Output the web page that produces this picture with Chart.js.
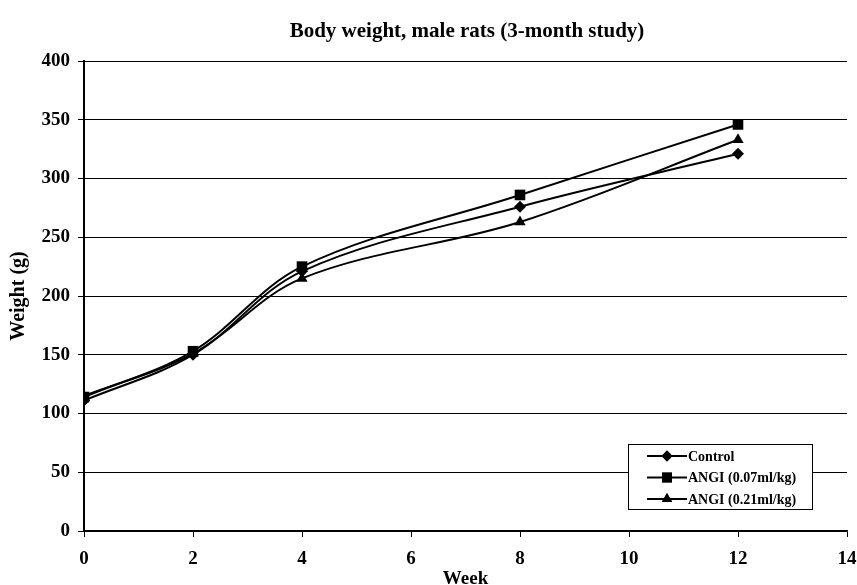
<!DOCTYPE html>
<html>
<head>
<meta charset="utf-8">
<script src="https://cdn.jsdelivr.net/npm/chart.js@4"></script>
<style>
  body { margin: 0; background: #fff; }
  #wrap { width: 857px; height: 585px; }
</style>
</head>
<body>
<div id="wrap"><canvas id="weightChart"></canvas></div>
<script>
var weeks = [0, 2, 4, 8, 12];
var seriesNames = ['Control', 'ANGI (0.07ml/kg)', 'ANGI (0.21ml/kg)'];
var controlValues = [111, 150, 221, 276, 321];
var lowDoseValues = [114, 153, 225, 286, 346];
var highDoseValues = [115, 151, 215, 263, 333];
var chartTitle = 'Body weight, male rats (3-month study)';
var markerShapes = ['rectRot', 'rect', 'triangle'];
var markerSizes = [6, 7.5, 6.5];

var serif = '"Liberation Serif", "Times New Roman", serif';

function toPoints(vals) {
  var pts = [];
  for (var i = 0; i < weeks.length; i++) {
    pts.push({ x: weeks[i], y: vals[i] });
  }
  return pts;
}

var allValues = [controlValues, lowDoseValues, highDoseValues];
var datasets = [];
for (var s = 0; s < seriesNames.length; s++) {
  datasets.push({
    label: seriesNames[s],
    data: toPoints(allValues[s]),
    borderColor: '#000',
    backgroundColor: '#000',
    borderWidth: 2,
    pointStyle: markerShapes[s],
    pointRadius: markerSizes[s],
    pointBorderWidth: 0,
    pointBackgroundColor: '#000',
    tension: 0.35,
    showLine: true
  });
}

// title drawn by hand so it can sit where the original has it
var titleText = {
  id: 'titleText',
  afterDraw: function(chart) {
    var ctx = chart.ctx;
    ctx.save();
    ctx.fillStyle = '#000';
    ctx.font = 'bold 21px ' + serif;
    ctx.textAlign = 'center';
    ctx.textBaseline = 'alphabetic';
    ctx.fillText(chartTitle, 467, 37);
    ctx.restore();
  }
};

// legend box drawn inside the plot, like the original
var boxLegend = {
  id: 'boxLegend',
  afterDraw: function(chart) {
    var ctx = chart.ctx;
    var left = 628, top = 444, w = 184, h = 65;
    ctx.save();
    ctx.fillStyle = '#fff';
    ctx.fillRect(left, top, w, h);
    ctx.strokeStyle = '#000';
    ctx.lineWidth = 1;
    ctx.strokeRect(left + 0.5, top + 0.5, w, h);
    ctx.font = 'bold 14px ' + serif;
    ctx.textBaseline = 'middle';
    for (var i = 0; i < chart.data.datasets.length; i++) {
      var ds = chart.data.datasets[i];
      var y = top + 12 + i * 21.5;
      ctx.beginPath();
      ctx.moveTo(left + 19, y);
      ctx.lineTo(left + 59, y);
      ctx.lineWidth = 2;
      ctx.strokeStyle = '#000';
      ctx.stroke();
      ctx.fillStyle = '#000';
      Chart.helpers.drawPoint(ctx, { pointStyle: ds.pointStyle, radius: ds.pointRadius - 0.5, rotation: 0, borderWidth: 0 }, left + 39, y);
      ctx.fill();
      ctx.fillText(ds.label, left + 60, y + 1);
    }
    ctx.restore();
  }
};

var ctx = document.getElementById('weightChart');
var weightChart = new Chart(ctx, {
  type: 'scatter',
  data: { datasets: datasets },
  plugins: [titleText, boxLegend],
  options: {
    responsive: true,
    maintainAspectRatio: false,
    animation: false,
    layout: { padding: { left: 0, right: 0, top: 61, bottom: 0 } },
    plugins: {
      legend: { display: false },
      tooltip: { enabled: false },
      title: { display: false }
    },
    scales: {
      x: {
        type: 'linear',
        min: 0,
        max: 14,
        afterFit: function(scale) {
          scale.height = 54;
          scale.paddingLeft = 0;
          scale.paddingRight = 10;
        },
        ticks: { stepSize: 2, color: '#000', font: { family: serif, size: 19, weight: 'bold' }, padding: 11 },
        grid: { display: true, drawOnChartArea: false, drawTicks: true, tickLength: 6, color: '#000' },
        border: { color: '#000', width: 1.5 },
        title: { display: true, text: 'Week', color: '#000', font: { family: serif, size: 19, weight: 'bold' }, padding: { top: 0, bottom: -5 } }
      },
      y: {
        min: 0,
        max: 400,
        afterFit: function(scale) { scale.width = 84; },
        ticks: { stepSize: 50, color: '#000', font: { family: serif, size: 19, weight: 'bold' }, padding: 8 },
        grid: { color: '#000', lineWidth: 1, tickLength: 6 },
        border: { color: '#000', width: 2 },
        title: { display: true, text: 'Weight (g)', color: '#000', font: { family: serif, size: 20, weight: 'bold' }, padding: { top: 7, bottom: 0 } }
      }
    }
  }
});
</script>
</body>
</html>
